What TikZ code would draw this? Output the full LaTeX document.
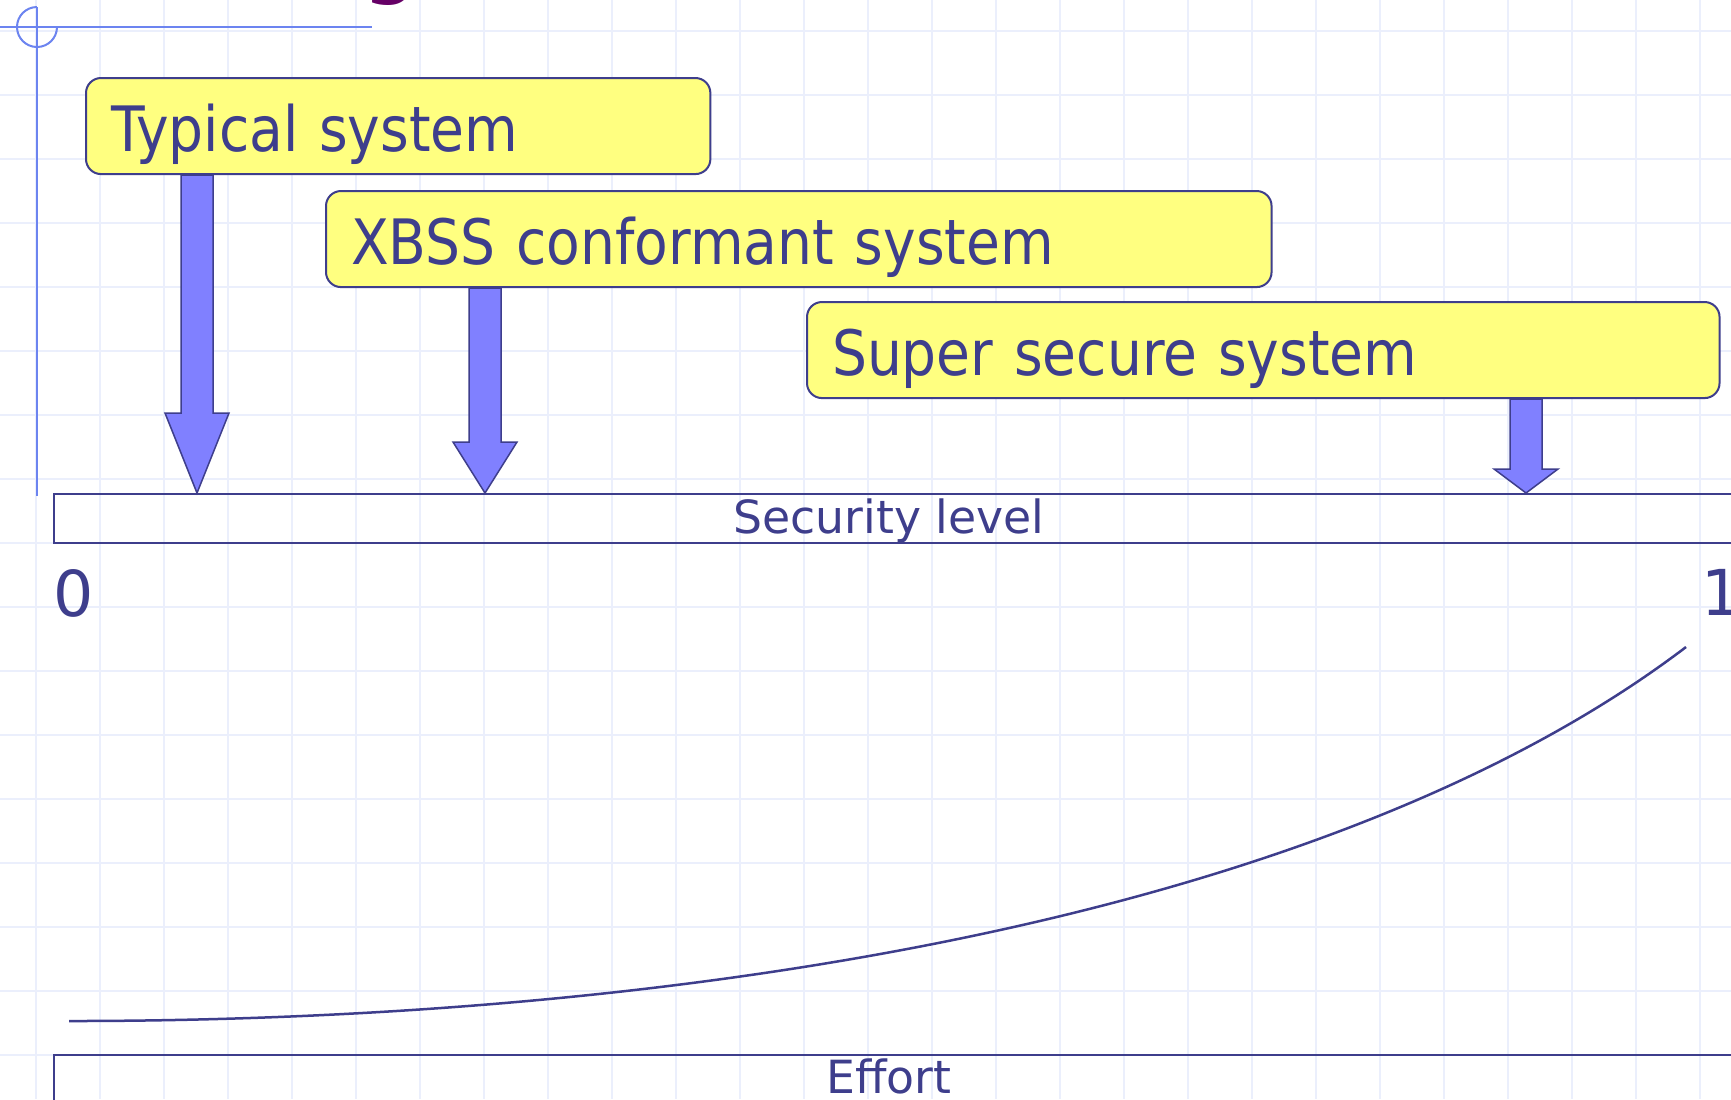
\documentclass[tikz,border=0pt]{standalone}
\usepackage{fontspec}
\setmainfont{DejaVu Sans}
\newfontfamily\boxfont{DejaVu Sans}[FakeStretch=0.88]
\usetikzlibrary{calc,positioning}

\definecolor{inkblue}{RGB}{62,62,140}
\definecolor{boxyellow}{RGB}{255,255,128}
\definecolor{arrowblue}{RGB}{128,128,255}
\definecolor{axisblue}{RGB}{108,132,240}
\definecolor{gridblue}{RGB}{235,239,252}
\definecolor{titlepurple}{RGB}{102,0,102}

\tikzset{
  gridline/.style={gridblue, line width=0.02cm},
  axisline/.style={axisblue, line width=0.02cm},
  sysbox/.style={draw=inkblue, line width=0.02cm, fill=boxyellow, rounded corners=0.15cm,
    anchor=north west, align=left, inner xsep=0.25cm, inner ysep=0pt, minimum height=0.96cm,
    text height=0.5cm, text depth=0pt, text=inkblue, font=\boxfont\fontsize{17.8}{20}\selectfont},
  scalebar/.style={draw=inkblue, line width=0.02cm, anchor=north west, minimum width=17cm,
    minimum height=0.49cm, inner sep=0pt},
  barlabel/.style={text=inkblue, anchor=base, inner sep=0pt, font=\fontsize{13}{15}\selectfont},
  endlabel/.style={text=inkblue, anchor=base west, inner sep=0pt, font=\fontsize{18}{20}\selectfont},
  blockarrow/.style={fill=arrowblue, draw=inkblue, line width=0.015cm, line join=miter},
  effortline/.style={inkblue, line width=0.025cm},
}

% fat arrow from the bottom of box #1 down to tip #2, head length #3
\newcommand{\sysarrow}[3]{%
  \path (#1.south -| #2) coordinate (#2top);
  \filldraw[blockarrow] ($(#2top)+(-16,0)$) -- ($(#2)+(-16,-#3)$) -- ($(#2)+(-32,-#3)$) -- (#2)
    -- ($(#2)+(32,-#3)$) -- ($(#2)+(16,-#3)$) -- ($(#2top)+(16,0)$) -- cycle;}

\begin{document}
\begin{tikzpicture}[x=0.01cm, y=-0.01cm]

\fill[white] (0,0) rectangle (1731,1099);
\useasboundingbox (0,0) rectangle (1731,1099);

% grid
\foreach \gx in {0,...,26}
  \draw[gridline] (36+64*\gx,0) -- (36+64*\gx,1099);
\foreach \gy in {0,...,16}
  \draw[gridline] (0,31+64*\gy) -- (1731,31+64*\gy);

% corner mark and title rest
\node[text=titlepurple, anchor=base, inner sep=0pt, font=\fontsize{26}{28}\selectfont] (title) at (391,-14) {g};
\draw[axisline] (0,27) -- (372,27);
\draw[axisline] (37,7) -- (37,496);
\draw[axisline] (57,27) arc[start angle=0, end angle=270, radius=20];

% scales
\node[scalebar] (sec) at (53,493) {};
\node[barlabel] (seclabel) at (889,533) {Security level};
\node[endlabel] (zero) at (53,616) {0};
\node[endlabel] (one) at (1701,615) {1};

\node[scalebar] (eff) at (53,1054) {};
\node[barlabel] (efflabel) at (889,1093) {Effort};

% effort curve
\draw[effortline] (69,1021) .. controls (700,1021) and (1336,913) .. (1686,647);

% systems
\node[sysbox, text width=5.74cm] (typ) at (85,77) {Typical system};
\node[sysbox, text width=8.95cm] (xbss) at (325,190) {XBSS conformant system};
\node[sysbox, text width=8.62cm] (super) at (806,301) {Super secure system};

\path (sec.north west) ++(144,0) coordinate (tip1);
\path (sec.north west) ++(432,0) coordinate (tip2);
\path (sec.north west) ++(1473,0) coordinate (tip3);

\sysarrow{typ}{tip1}{80}
\sysarrow{xbss}{tip2}{51}
\sysarrow{super}{tip3}{24}

\end{tikzpicture}
\end{document}
